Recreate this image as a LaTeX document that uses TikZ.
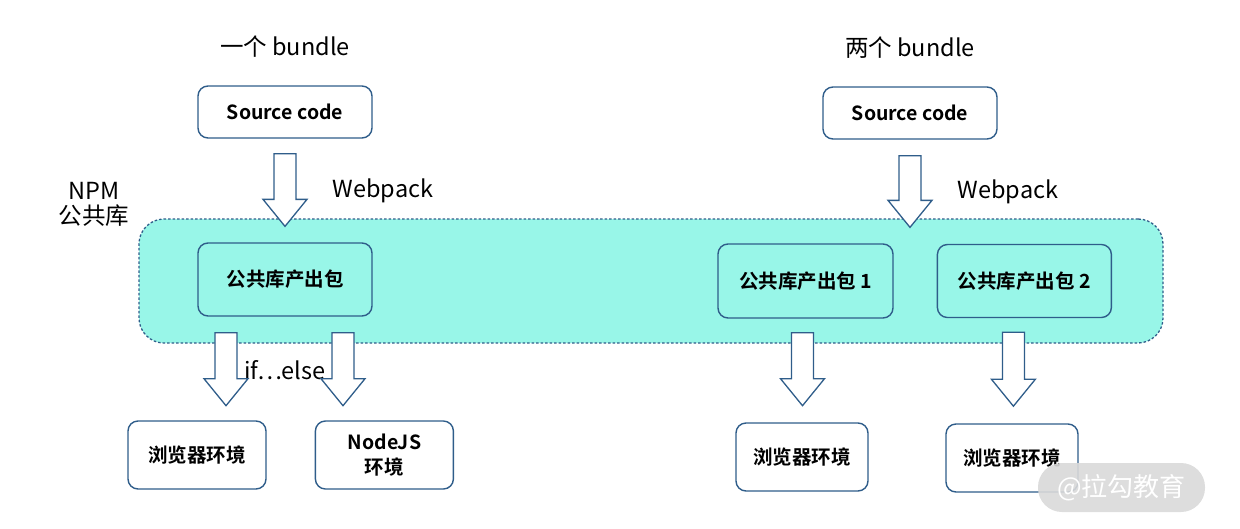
\documentclass[tikz,border=0pt]{standalone}
\usepackage{fontspec}
\setmainfont{Noto Sans CJK SC}[BoldFont={Noto Sans CJK SC Bold}]
\usetikzlibrary{positioning,calc}
\definecolor{boxblue}{RGB}{47,93,138}
\definecolor{npmcyan}{RGB}{152,246,232}
\tikzset{
  box/.style={draw=boxblue, line width=1.4pt, rounded corners=10pt, fill=white,
    inner sep=0pt, align=center, font=\bfseries\fontsize{19.5}{25}\selectfont},
  label/.style={inner sep=0pt, align=center, font=\fontsize{23.5}{25}\selectfont},
  blockarrow/.style={draw=boxblue, line width=1.3pt, fill=white,
    to path={let \p1=(\tikztostart), \p2=(\tikztotarget) in
      (\x1-11pt,\y1) -- (\x1+11pt,\y1) -- (\x1+11pt,\y2+27pt) -- (\x1+22pt,\y2+27pt)
      -- (\x1,\y2) -- (\x1-22pt,\y2+27pt) -- (\x1-11pt,\y2+27pt) -- cycle}}
}
\begin{document}
\begin{tikzpicture}[x=1pt,y=1pt]
\useasboundingbox (0,0) rectangle (1240,-528);

% NPM area
\node [draw=boxblue, line width=1.3pt, dash pattern=on 2.5pt off 2pt, fill=npmcyan,
  rounded corners=25pt, minimum width=1024pt, minimum height=124pt, inner sep=0pt] (npm) at (651,-281) {};
\node [label] (npmlabel) at (94,-204) {NPM\\公共库};

% one bundle
\node [label] (title1) at (285,-47) {一个 bundle};
\node [box, minimum width=174pt, minimum height=52pt] (src1) at (285,-112) {Source code};
\node [box, fill=npmcyan, minimum width=174pt, minimum height=73pt] (pkg) at (285,-279.5) {公共库产出包};
\node [box, minimum width=138pt, minimum height=68pt] (b1) at (197,-455) {浏览器环境};
\node [box, minimum width=138pt, minimum height=68pt] (node) [right=48pt of b1] {NodeJS\\环境};
\node [label] (web1) at (383,-191) {Webpack};
\node [label] (ifelse) at (285,-370) {if…else};

% two bundles
\node [label] (title2) at (910,-48) {两个 bundle};
\node [box, minimum width=174pt, minimum height=52pt] (src2) at (910,-113) {Source code};
\node [box, fill=npmcyan, minimum width=175pt, minimum height=74pt] (pkg1) at (805.5,-281) {公共库产出包 1};
\node [box, fill=npmcyan, minimum width=174pt, minimum height=73pt] (pkg2) [right=43pt of pkg1] {公共库产出包 2};
\node [box, minimum width=132pt, minimum height=68pt] (b3) at (802,-457) {浏览器环境};
\node [box, minimum width=132pt, minimum height=68pt] (b4) at (1012,-458) {浏览器环境};
\node [label] (web2) at (1008,-192) {Webpack};

% arrows
\draw [blockarrow] ($(src1.south)+(0,-15)$) to ($(src1.south |- npm.north)+(0,-8)$);
\draw [blockarrow] ($(src2.south)+(0,-16)$) to ($(src2.south |- npm.north)+(0,-9)$);
\draw [blockarrow] ($(pkg.south)+(-59,-16)$) to ($(pkg.south)+(-59,-89)$);
\draw [blockarrow] ($(pkg.south)+(58,-16)$) to ($(pkg.south)+(58,-89)$);
\draw [blockarrow] ($(pkg1.south)+(-3,-14)$) to ($(pkg1.south)+(-3,-87)$);
\draw [blockarrow] ($(pkg2.south)+(-11,-14)$) to ($(pkg2.south)+(-11,-88)$);

% watermark
\node [fill=black!15, fill opacity=0.9, text opacity=1, text=white, rounded corners=24pt,
  minimum width=167pt, minimum height=49pt, inner sep=0pt,
  font=\fontsize{26}{28}\selectfont] (mark) at (1121.5,-487.5) {@拉勾教育};
\end{tikzpicture}
\end{document}
